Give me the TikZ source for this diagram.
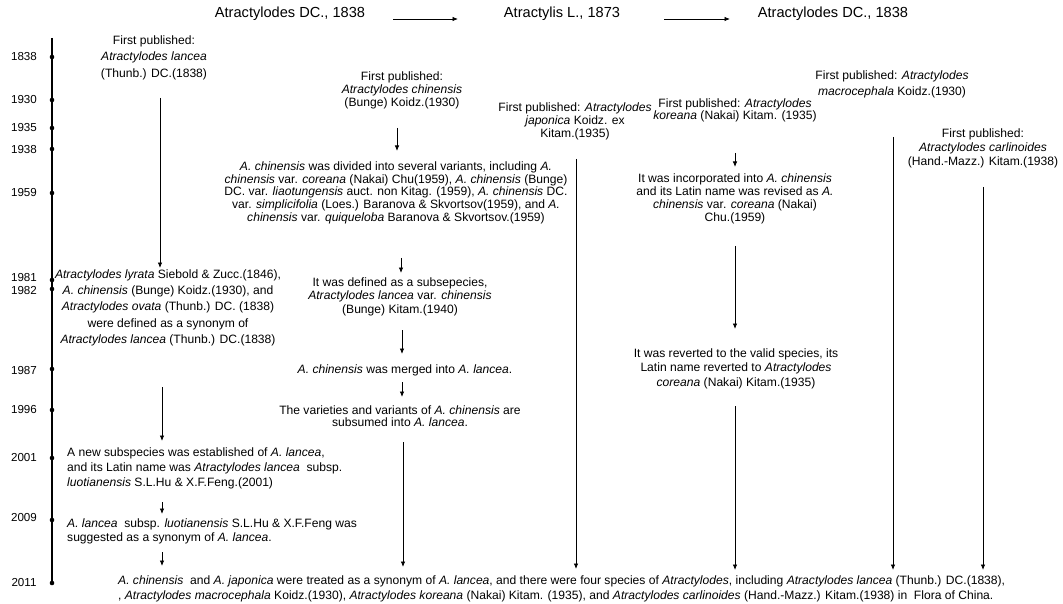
\documentclass[tikz,border=0pt]{standalone}
\usepackage{fontspec}
\setmainfont{Liberation Sans}
\usetikzlibrary{arrows.meta}
\newcommand{\bodyfs}[1]{\fontsize{12.1}{#1}\selectfont}
\begin{document}
\begin{tikzpicture}[x=1pt,y=-1pt,
  txt/.style={inner sep=0pt, align=center, anchor=north},
  ltxt/.style={inner sep=0pt, align=left, anchor=north west},
  hdr/.style={inner sep=0pt, font=\fontsize{14.6}{16}\selectfont},
  yr/.style={inner sep=0pt, font=\fontsize{11.6}{13}\selectfont},
  dot/.style={circle, fill=black, inner sep=0pt, minimum size=4.6pt},
  arr/.style={-{Latex[length=5.5pt,width=4.5pt]}, line width=0.8pt},
  tl/.style={line width=1.1pt}]
\fill[white] (0,0) rectangle (1063,604);
\useasboundingbox (0,0) rectangle (1063,604);

% header
\node[hdr] (h1) at (290,14) {Atractylodes DC., 1838};
\node[hdr] (h2) at (562,14) {Atractylis L., 1873};
\node[hdr] (h3) at (833,14) {Atractylodes DC., 1838};
\coordinate (ha1s) at (393,19); \coordinate (ha1e) at (458,19);
\coordinate (ha2s) at (664,19); \coordinate (ha2e) at (730,19);
\draw[arr] (ha1s) -- (ha1e);
\draw[arr] (ha2s) -- (ha2e);

% timeline
\coordinate (ttop) at (52,38);
\foreach \yy/\yl/\dl in {1838/57/57,1930/100/100,1935/128/128,1938/150/149,1959/193/193,1981/278/280,1982/291/289,1987/371/369,1996/410/410,2001/458/458,2009/518/520,2011/583/583}{
  \node[dot] (d\yy) at (52,\dl) {};
  \node[yr] (y\yy) at (24,\yl) {\yy};
}
\draw[tl] (ttop) -- (d2011.center);

% left column
\node[txt, font=\bodyfs{16.5}] (L1) at (154,35.5) {First published:\\ \textit{Atractylodes lancea}\\ (Thunb.) DC.(1838)};
\node[txt, font=\bodyfs{16.2}] (L2) at (168,269.5) {\textit{Atractylodes lyrata} Siebold \& Zucc.(1846),\\ \textit{A. chinensis} (Bunge) Koidz.(1930), and\\ \textit{Atractylodes ovata} (Thunb.) DC. (1838)\\ were defined as a synonym of\\ \textit{Atractylodes lancea} (Thunb.) DC.(1838)};
\node[ltxt, font=\bodyfs{15}] (L3) at (67,447.5) {A new subspecies was established of \textit{A. lancea},\\ and its Latin name was \textit{Atractylodes lancea}\ \ subsp.\\ \textit{luotianensis} S.L.Hu \& X.F.Feng.(2001)};
\node[ltxt, font=\bodyfs{14}] (L4) at (67,518.5) {\textit{A. lancea}\ \ subsp. \textit{luotianensis} S.L.Hu \& X.F.Feng was\\ suggested as a synonym of \textit{A. lancea}.};

% middle column
\node[txt, font=\bodyfs{13}] (B1) at (402,71.5) {First published:\\ \textit{Atractylodes chinensis}\\ (Bunge) Koidz.(1930)};
\node[txt, font=\bodyfs{12.75}] (B2) at (396,161.5) {\textit{A. chinensis} was divided into several variants, including \textit{A.}\\ \textit{chinensis} var. \textit{coreana} (Nakai) Chu(1959), \textit{A. chinensis} (Bunge)\\ DC. var. \textit{liaotungensis} auct. non Kitag. (1959), \textit{A. chinensis} DC.\\ var. \textit{simplicifolia} (Loes.) Baranova \& Skvortsov(1959), and \textit{A.}\\ \textit{chinensis} var. \textit{quiqueloba} Baranova \& Skvortsov.(1959)};
\node[txt, font=\bodyfs{13.3}] (B3) at (400,277.5) {It was defined as a subsepecies,\\ \textit{Atractylodes lancea} var. \textit{chinensis}\\ (Bunge) Kitam.(1940)};
\node[txt, font=\bodyfs{13}] (B4) at (405,364.5) {\textit{A. chinensis} was merged into \textit{A. lancea}.};
\node[txt, font=\bodyfs{12.3}] (B5) at (400,405.5) {The varieties and variants of \textit{A. chinensis} are\\ subsumed into \textit{A. lancea}.};

% japonica column
\node[txt, font=\bodyfs{13}] (C1) at (575,102.5) {First published: \textit{Atractylodes}\\ \textit{japonica} Koidz. ex\\ Kitam.(1935)};

% koreana column
\node[txt, font=\bodyfs{12}] (D1) at (735,98.5) {First published: \textit{Atractylodes}\\ \textit{koreana} (Nakai) Kitam. (1935)};
\node[txt, font=\bodyfs{13}] (D2) at (735,173.5) {It was incorporated into \textit{A. chinensis}\\ and its Latin name was revised as \textit{A.}\\ \textit{chinensis} var. \textit{coreana} (Nakai)\\ Chu.(1959)};
\node[txt, font=\bodyfs{14.5}] (D3) at (736,348.5) {It was reverted to the valid species, its\\ Latin name reverted to \textit{Atractylodes}\\ \textit{coreana} (Nakai) Kitam.(1935)};

% macrocephala and carlinoides
\node[txt, font=\bodyfs{16}] (E1) at (892,70.5) {First published: \textit{Atractylodes}\\ \textit{macrocephala} Koidz.(1930)};
\node[txt, font=\bodyfs{14}] (F1) at (983,128.5) {First published:\\ \textit{Atractylodes carlinoides}\\ (Hand.-Mazz.) Kitam.(1938)};

% bottom
\node[ltxt, font=\bodyfs{15}] (Z) at (118,575.5) {\textit{A. chinensis}\ \ and \textit{A. japonica} were treated as a synonym of \textit{A. lancea}, and there were four species of \textit{Atractylodes}, including \textit{Atractylodes lancea} (Thunb.) DC.(1838),\\ , \textit{Atractylodes macrocephala} Koidz.(1930), \textit{Atractylodes koreana} (Nakai) Kitam. (1935), and \textit{Atractylodes carlinoides} (Hand.-Mazz.) Kitam.(1938) in\ \ Flora of China.};

% arrow coordinates
\coordinate (aL1s) at (160,98);  \coordinate (aL1e) at (160,268);
\coordinate (aL2s) at (162,387); \coordinate (aL2e) at (162,441);
\coordinate (aL3s) at (162,502); \coordinate (aL3e) at (162,514);
\coordinate (aL4s) at (162,552); \coordinate (aL4e) at (162,566);
\coordinate (aB1s) at (397,128); \coordinate (aB1e) at (397,151);
\coordinate (aB2s) at (401,258); \coordinate (aB2e) at (401,273);
\coordinate (aB3s) at (402,330); \coordinate (aB3e) at (402,354);
\coordinate (aB4s) at (402,382); \coordinate (aB4e) at (402,397);
\coordinate (aB5s) at (403,442); \coordinate (aB5e) at (403,567);
\coordinate (aCs) at (576,159);  \coordinate (aCe) at (576,569);
\coordinate (aD1s) at (735,153); \coordinate (aD1e) at (735,167);
\coordinate (aD2s) at (735,246); \coordinate (aD2e) at (735,329);
\coordinate (aD3s) at (735,406); \coordinate (aD3e) at (735,570);
\coordinate (aEs) at (893,137);  \coordinate (aEe) at (893,570);
\coordinate (aFs) at (983,187);  \coordinate (aFe) at (983,570);
\foreach \a in {L1,L2,L3,L4,B1,B2,B3,B4,B5,C,D1,D2,D3,E,F}{
  \draw[arr] (a\a s) -- (a\a e);
}
\end{tikzpicture}
\end{document}
